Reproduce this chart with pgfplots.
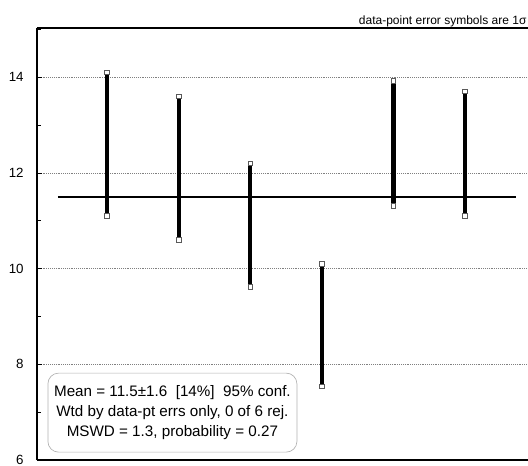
\documentclass[border=0pt]{standalone}
\usepackage{fontspec}
\setmainfont{Liberation Sans}
\usepackage{pgfplots}
\pgfplotsset{compat=1.18}
\begin{document}
\begin{tikzpicture}
\begin{axis}[
  scale only axis, width=368.25pt, height=324pt,
  xmin=0.02, xmax=6.88, ymin=6, ymax=15.03,
  axis x line*=box, axis y line*=left,
  axis line style={black, line width=0.8pt},
  xtick=\empty,
  ytick={6,8,10,12,14}, minor ytick={7,9,11,13,15},
  tick align=inside, major tick length=4pt, minor tick length=3pt,
  tick style={black, line width=0.6pt},
  ymajorgrids, grid style={densely dotted, gray, line width=0.6pt},
  /pgf/number format/assume math mode=true,
  yticklabel style={font=\fontsize{10}{11}\selectfont, xshift=-6.5pt},
  clip=false,
]
\addplot[mark=none, draw=none,
  error bars/.cd, y dir=both, y explicit,
  error bar style={line width=3.2pt, draw=black},
  error mark=square*,
  error mark options={mark size=1.7pt, fill=white, draw=gray!70!black, line width=0.7pt}]
  table[x=x, y=y, y error=e] {
x y e
1 12.60 1.50
2 12.10 1.50
3 10.91 1.29
4 8.82 1.28
5 12.615 1.305
6 12.40 1.30
};
\addplot[black, line width=1.8pt] coordinates {(0.31,11.5) (6.71,11.5)};
\node[draw=gray!60, rounded corners=8pt, line width=0.5pt, minimum width=186.75pt,
  minimum height=59.25pt, align=center, fill=white, inner sep=0pt,
  font=\fontsize{11.4}{15}\selectfont]
  at (axis cs:1.912,6.99)
  {Mean = 11.5±1.6~~[14\%]~~95\% conf.\\ Wtd by data-pt errs only, 0 of 6 rej.\\ MSWD = 1.3, probability = 0.27};
\node[anchor=base east, font=\fontsize{9}{10}\selectfont, inner sep=0pt]
  at (axis cs:6.862,15.1) {data-point error symbols are 1σ};
\end{axis}
\pgfresetboundingbox
\path[use as bounding box] (-27.75pt,-4.5pt) rectangle (368.25pt,345pt);
\end{tikzpicture}
\end{document}
